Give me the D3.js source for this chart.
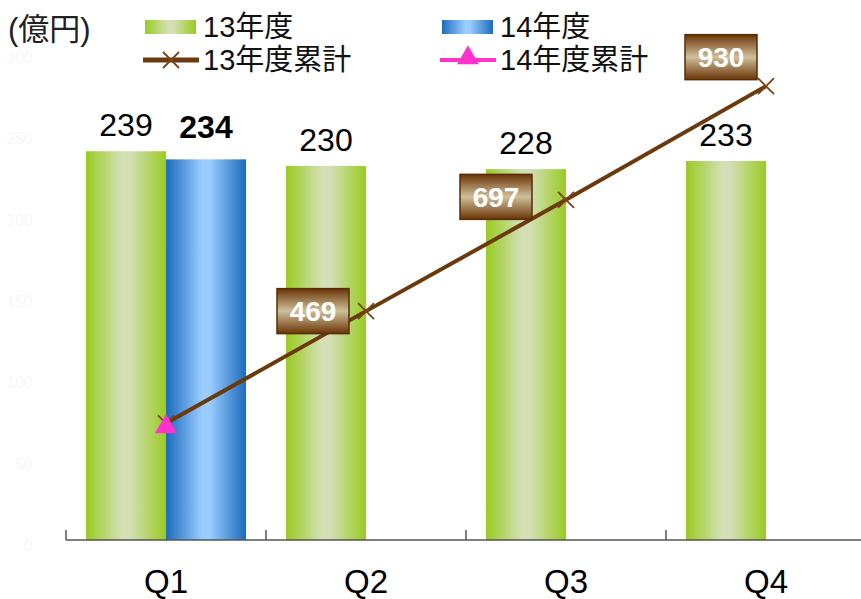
<!DOCTYPE html>
<html>
<head>
<meta charset="utf-8">
<script src="https://cdn.jsdelivr.net/npm/d3@7"></script>
<style>
  html, body { margin: 0; padding: 0; background: #fff; }
  svg { display: block; }
  text { font-family: "Liberation Sans", Arial, "Noto Sans CJK JP", sans-serif; }
</style>
</head>
<body>
<svg id="chart" width="861" height="599"></svg>
<script>
// Quarterly sales (億円)
const quarters = ["Q1", "Q2", "Q3", "Q4"];
const sales13 = [239, 230, 228, 233];
const sales14 = [234];
const cumulative13 = [239, 469, 697, 930];
const cumulative14 = [234];
const barTicks = [0, 50, 100, 150, 200, 250, 300];
const seriesNames = ["13年度", "14年度", "13年度累計", "14年度累計"];
const unitLabel = "(億円)";

// Placement of the boxed cumulative labels relative to their points
const boxOffsets = [null, [-53, 0], [-70, -3], [-45, -29]];

const svg = d3.select("#chart");
const W = 861, H = 599;
const plotLeft = 66, plotRight = 866, plotBase = 540, plotTop = 52;

const x = d3.scaleBand().domain(quarters).range([plotLeft, plotRight]).paddingInner(0).paddingOuter(0);
const inner = d3.scaleBand().domain(["13", "14"]).range([20, 180]).padding(0);
const yBar = d3.scaleLinear().domain([0, 300]).range([plotBase, plotTop]);
const yCum = d3.scaleLinear().domain([0, 1000]).range([plotBase, plotTop]);

// Gradients
const defs = svg.append("defs");
function hGrad(id, edge, mid) {
  const g = defs.append("linearGradient").attr("id", id).attr("x1", "0").attr("x2", "1").attr("y1", "0").attr("y2", "0");
  g.append("stop").attr("offset", "0%").attr("stop-color", edge);
  g.append("stop").attr("offset", "45%").attr("stop-color", mid);
  g.append("stop").attr("offset", "55%").attr("stop-color", mid);
  g.append("stop").attr("offset", "100%").attr("stop-color", edge);
}
hGrad("gGreen", "#99cc22", "#d4dfb6");
hGrad("gBlue", "#1c6bbd", "#99ccff");
const bg = defs.append("linearGradient").attr("id", "gBox").attr("x1", "0").attr("x2", "0").attr("y1", "0").attr("y2", "1");
bg.append("stop").attr("offset", "0%").attr("stop-color", "#6a3405");
bg.append("stop").attr("offset", "50%").attr("stop-color", "#cfc09c");
bg.append("stop").attr("offset", "100%").attr("stop-color", "#6a3405");

// Faint value axis labels on the left
svg.append("g").selectAll("text").data(barTicks).join("text")
  .attr("x", 33).attr("y", d => yBar(d) + 11)
  .attr("text-anchor", "end")
  .attr("font-size", 16)
  .attr("fill", "#f7f7f7")
  .text(d => d);

// Bars
const bars = svg.append("g");
bars.selectAll("rect.s13").data(sales13).join("rect")
  .attr("class", "s13")
  .attr("x", (d, i) => x(quarters[i]) + inner("13"))
  .attr("y", d => yBar(d))
  .attr("width", inner.bandwidth())
  .attr("height", d => plotBase - yBar(d))
  .attr("fill", "url(#gGreen)");
bars.selectAll("rect.s14").data(sales14).join("rect")
  .attr("class", "s14")
  .attr("x", (d, i) => x(quarters[i]) + inner("14"))
  .attr("y", d => yBar(d))
  .attr("width", inner.bandwidth())
  .attr("height", d => plotBase - yBar(d))
  .attr("fill", "url(#gBlue)");

// Bar value labels
const vl = svg.append("g").attr("font-size", 32).attr("fill", "#000").attr("text-anchor", "middle");
vl.selectAll("text.l13").data(sales13).join("text")
  .attr("class", "l13")
  .attr("x", (d, i) => x(quarters[i]) + inner("13") + inner.bandwidth() / 2)
  .attr("y", d => yBar(d) - 15)
  .text(d => d);
vl.selectAll("text.l14").data(sales14).join("text")
  .attr("class", "l14")
  .attr("x", (d, i) => x(quarters[i]) + inner("14") + inner.bandwidth() / 2)
  .attr("y", d => yBar(d) - 21)
  .attr("font-weight", "bold")
  .text(d => d);

// Category axis
const axisG = svg.append("g").attr("transform", `translate(0,${plotBase})`);
axisG.append("line").attr("x1", plotLeft).attr("x2", W).attr("y1", 0).attr("y2", 0)
  .attr("stroke", "#555").attr("stroke-width", 1.5);
axisG.selectAll("line.tick").data(quarters).join("line")
  .attr("class", "tick")
  .attr("x1", d => x(d)).attr("x2", d => x(d))
  .attr("y1", 0).attr("y2", -10)
  .attr("stroke", "#555").attr("stroke-width", 1.5);
axisG.selectAll("text").data(quarters).join("text")
  .attr("x", d => x(d) + x.bandwidth() / 2)
  .attr("y", 53)
  .attr("text-anchor", "middle")
  .attr("font-size", 33)
  .attr("fill", "#000")
  .text(d => d);

// Cumulative line
const cx = i => x(quarters[i]) + x.bandwidth() / 2;
const line = d3.line().x((d, i) => cx(i)).y(d => yCum(d));
svg.append("path").datum(cumulative13)
  .attr("d", line)
  .attr("fill", "none")
  .attr("stroke", "#6b3a0c")
  .attr("stroke-width", 4);

function xMark(g, px, py, s) {
  g.append("path")
    .attr("d", `M${px - s},${py - s}L${px + s},${py + s}M${px - s},${py + s}L${px + s},${py - s}`)
    .attr("stroke", "#7a4417").attr("stroke-width", 1.8).attr("fill", "none");
}
const marks = svg.append("g");
cumulative13.forEach((d, i) => xMark(marks, cx(i), yCum(d), 8));

const tri = d3.symbol().type(d3.symbolTriangle).size(210);
svg.append("g").selectAll("path").data(cumulative14).join("path")
  .attr("transform", (d, i) => `translate(${cx(i)},${yCum(d) + 1})`)
  .attr("d", tri)
  .attr("fill", "#ff33cc");

// Boxed cumulative labels
const bw = 72, bh = 45;
const boxes = svg.append("g");
cumulative13.forEach((d, i) => {
  const off = boxOffsets[i];
  if (!off) return;
  const bx = cx(i) + off[0], by = yCum(d) + off[1];
  const g = boxes.append("g").attr("transform", `translate(${bx},${by})`);
  g.append("rect").attr("x", -bw / 2).attr("y", -bh / 2).attr("width", bw).attr("height", bh)
    .attr("fill", "url(#gBox)").attr("stroke", "#5a2c05").attr("stroke-width", 1.5);
  g.append("text").attr("x", 0).attr("y", 10)
    .attr("text-anchor", "middle").attr("font-size", 28).attr("font-weight", "bold")
    .attr("fill", "#fff").text(d);
});

// Unit label
svg.append("text").attr("x", 8).attr("y", 40).attr("font-size", 31).attr("fill", "#222").text(unitLabel);

// Legend
const lg = svg.append("g").attr("font-size", 29).attr("fill", "#111");
const col = [143, 440], row = [27, 60], tx = 60;
lg.append("rect").attr("x", col[0] + 2).attr("y", row[0] - 7).attr("width", 51).attr("height", 14).attr("fill", "url(#gGreen)");
lg.append("rect").attr("x", col[1] + 2).attr("y", row[0] - 7).attr("width", 51).attr("height", 14).attr("fill", "url(#gBlue)");
lg.append("line").attr("x1", col[0]).attr("x2", col[0] + 56).attr("y1", row[1]).attr("y2", row[1])
  .attr("stroke", "#6b3a0c").attr("stroke-width", 5);
xMark(lg, col[0] + 28, row[1], 8);
lg.append("line").attr("x1", col[1]).attr("x2", col[1] + 56).attr("y1", row[1]).attr("y2", row[1])
  .attr("stroke", "#ff33cc").attr("stroke-width", 4);
lg.append("path").attr("transform", `translate(${col[1] + 28},${row[1] - 2})`).attr("d", tri).attr("fill", "#ff33cc");
[[0, 0], [1, 0], [0, 1], [1, 1]].forEach(([c, r]) => {
  lg.append("text").attr("x", col[c] + tx).attr("y", row[r] + 10).text(seriesNames[c + 2 * r]);
});
</script>
</body>
</html>
